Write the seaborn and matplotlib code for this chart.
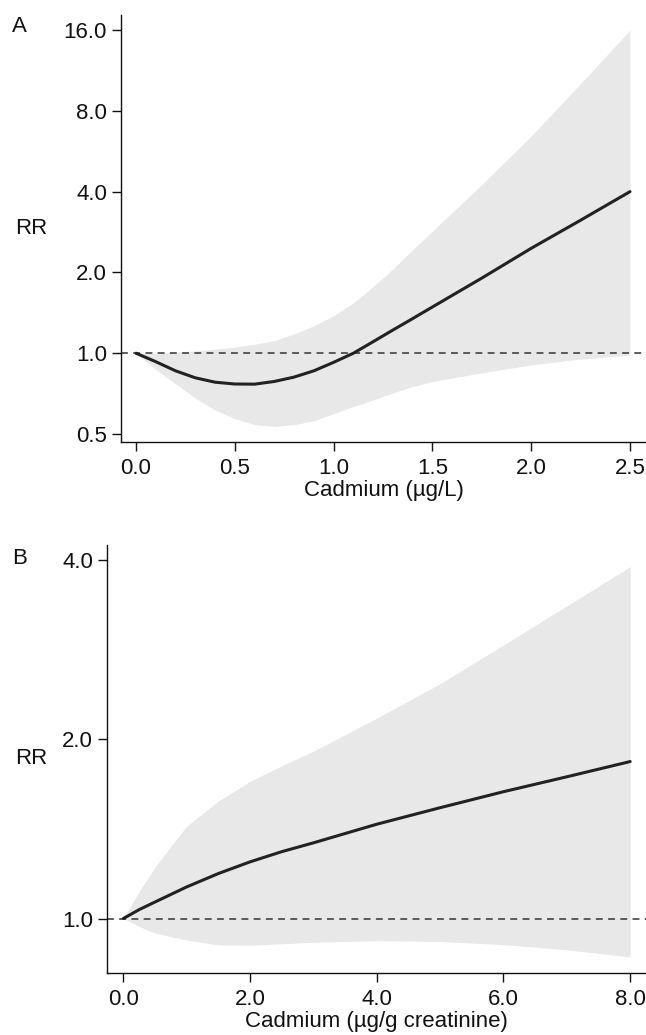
import matplotlib
matplotlib.use("Agg")
import matplotlib.pyplot as plt
import matplotlib.ticker as mticker
import seaborn as sns
import pandas as pd

# Panel A: blood cadmium (ug/L)
a_x = [0.0, 0.1, 0.2, 0.3, 0.4, 0.5, 0.6, 0.7, 0.8, 0.9, 1.0, 1.1, 1.2, 1.3, 1.4, 1.5, 1.75, 2.0, 2.25, 2.5]
a_rr = [1.0, 0.93, 0.86, 0.81, 0.78, 0.768, 0.767, 0.785, 0.815, 0.86, 0.925, 1.0, 1.104, 1.22, 1.346, 1.487, 1.905, 2.46, 3.13, 4.0]
a_lo = [1.0, 0.87, 0.77, 0.68, 0.615, 0.57, 0.543, 0.534, 0.542, 0.56, 0.596, 0.633, 0.67, 0.712, 0.752, 0.785, 0.845, 0.905, 0.95, 0.985]
a_hi = [1.0, 1.0, 1.01, 1.02, 1.035, 1.055, 1.08, 1.115, 1.18, 1.265, 1.38, 1.54, 1.77, 2.06, 2.43, 2.85, 4.25, 6.45, 10.1, 16.0]

# Panel B: urinary cadmium (ug/g creatinine)
b_x = [0.0, 0.25, 0.5, 1.0, 1.5, 2.0, 2.5, 3.0, 4.0, 5.0, 6.0, 7.0, 8.0]
b_rr = [1.0, 1.035, 1.066, 1.13, 1.19, 1.245, 1.295, 1.34, 1.44, 1.535, 1.633, 1.73, 1.835]
b_lo = [1.0, 0.97, 0.945, 0.92, 0.903, 0.902, 0.907, 0.912, 0.918, 0.915, 0.904, 0.886, 0.862]
b_hi = [1.0, 1.11, 1.22, 1.43, 1.575, 1.70, 1.805, 1.91, 2.17, 2.48, 2.88, 3.35, 3.9]

a_yticks = [0.5, 1.0, 2.0, 4.0, 8.0, 16.0]
a_xticks = [0.0, 0.5, 1.0, 1.5, 2.0, 2.5]
b_yticks = [1.0, 2.0, 4.0]
b_xticks = [0.0, 2.0, 4.0, 6.0, 8.0]

sns.set_style("ticks")
plt.rcParams['font.family'] = ['Liberation Sans', 'DejaVu Sans']
plt.rcParams['axes.linewidth'] = 1.0

fig = plt.figure(figsize=(6.46, 10.35), dpi=100)
W, H = 646, 1035
TXT = "#111111"


def panel(rect, x, rr, lo, hi, xticks, yticks, xlim, ylim, xlabel, letter, letter_y):
    l, t, r, b = rect
    ax = fig.add_axes([l / W, 1 - b / H, (r - l) / W, (b - t) / H])
    df = pd.DataFrame({"x": x, "rr": rr})
    # confidence band, reference line, estimate
    ax.fill_between(x, lo, hi, color="#e8e8e8", linewidth=0)
    ax.axhline(1.0, color="#333333", lw=1.1, ls=(0, (4.5, 3.5)))
    sns.lineplot(data=df, x="x", y="rr", ax=ax, color="#222222", lw=2.2)
    ax.set_yscale("log")
    ax.set_ylim(*ylim)
    ax.set_xlim(*xlim)
    ax.yaxis.set_major_locator(mticker.FixedLocator(yticks))
    ax.yaxis.set_major_formatter(mticker.FormatStrFormatter("%.1f"))
    ax.yaxis.set_minor_locator(mticker.NullLocator())
    ax.set_xticks(xticks)
    ax.xaxis.set_major_formatter(mticker.FormatStrFormatter("%.1f"))
    ax.tick_params(axis="y", length=6.5, width=1.0, pad=3.5, labelsize=16, colors=TXT)
    ax.tick_params(axis="x", length=6.5, width=1.0, pad=5, labelsize=16, colors=TXT)
    for s in ["top", "right"]:
        ax.spines[s].set_visible(False)
    for s in ["left", "bottom"]:
        ax.spines[s].set_color(TXT)
    ax.set_xlabel(xlabel, fontsize=16, labelpad=1, color=TXT)
    ax.set_ylabel("")
    fig.text(15 / W, 1 - ((t + b) / 2) / H, "RR", fontsize=16, ha="left", va="center", color=TXT)
    fig.text(12 / W, 1 - letter_y / H, letter, fontsize=16, ha="left", va="center", color=TXT)
    return ax


panel((121, 15, 646, 442), a_x, a_rr, a_lo, a_hi, a_xticks, a_yticks,
      (-0.076, 2.581), (0.467, 18.2), "Cadmium (\u00b5g/L)", "A", 27)
panel((107, 545, 646, 973), b_x, b_rr, b_lo, b_hi, b_xticks, b_yticks,
      (-0.258, 8.25), (0.81, 4.24), "Cadmium (\u00b5g/g creatinine)", "B", 558)

fig.savefig("out.png", dpi=100)
